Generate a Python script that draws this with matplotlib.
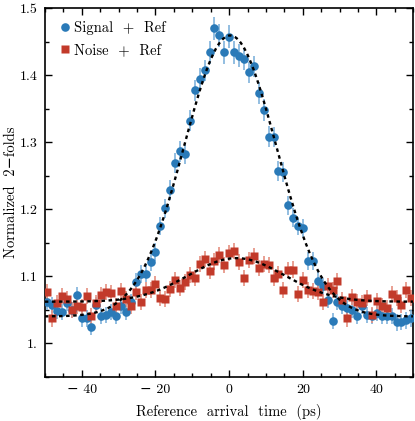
import numpy as np
import matplotlib
matplotlib.use("Agg")
import matplotlib.pyplot as plt
from matplotlib.ticker import MultipleLocator, FixedLocator, FixedFormatter

plt.rcParams['font.family'] = ['cmr10', 'DejaVu Serif']
plt.rcParams['axes.unicode_minus'] = True
plt.rcParams['mathtext.fontset'] = 'cm'

# ---- data ----
delay = [-49.35, -48.02, -46.68, -45.35, -44.01, -42.68, -41.34, -40.01, -38.67, -37.34,
         -36.00, -34.67, -33.33, -32.00, -30.66, -29.33, -27.99, -26.66, -25.32, -23.99,
         -22.65, -21.32, -19.98, -18.65, -17.31, -15.98, -14.64, -13.31, -11.97, -10.64,
         -9.30, -7.97, -6.63, -5.30, -3.96, -2.63, -1.29, 0.05, 1.38, 2.72,
         4.05, 5.39, 6.72, 8.06, 9.39, 10.73, 12.06, 13.40, 14.73, 16.07,
         17.40, 18.74, 20.07, 21.41, 22.74, 24.08, 25.41, 26.75, 28.08, 29.42,
         30.75, 32.09, 33.42, 34.76, 36.09, 37.43, 38.76, 40.10, 41.43, 42.77,
         44.10, 45.44, 46.77, 48.11, 49.44]

signal = [1.062, 1.057, 1.048, 1.047, 1.060, 1.050, 1.072, 1.037, 1.037, 1.025,
          1.057, 1.040, 1.042, 1.047, 1.041, 1.055, 1.046, 1.062, 1.092, 1.103,
          1.104, 1.121, 1.136, 1.175, 1.201, 1.228, 1.269, 1.286, 1.282, 1.332,
          1.377, 1.394, 1.407, 1.434, 1.470, 1.459, 1.434, 1.457, 1.434, 1.429,
          1.424, 1.404, 1.413, 1.373, 1.348, 1.308, 1.308, 1.257, 1.256, 1.206,
          1.187, 1.175, 1.172, 1.123, 1.123, 1.093, 1.085, 1.064, 1.033, 1.062,
          1.055, 1.052, 1.050, 1.041, 1.056, 1.042, 1.041, 1.045, 1.040, 1.041,
          1.040, 1.031, 1.032, 1.034, 1.037]

signal_err = [0.012, 0.012, 0.012, 0.012, 0.012, 0.012, 0.012, 0.012, 0.012, 0.012,
              0.012, 0.012, 0.012, 0.012, 0.012, 0.012, 0.012, 0.012, 0.013, 0.013,
              0.013, 0.013, 0.014, 0.014, 0.014, 0.015, 0.015, 0.015, 0.015, 0.016,
              0.016, 0.016, 0.016, 0.017, 0.017, 0.017, 0.017, 0.017, 0.017, 0.017,
              0.017, 0.016, 0.016, 0.016, 0.016, 0.016, 0.015, 0.015, 0.015, 0.014,
              0.014, 0.014, 0.014, 0.013, 0.013, 0.013, 0.013, 0.012, 0.012, 0.012,
              0.012, 0.012, 0.012, 0.012, 0.012, 0.012, 0.012, 0.012, 0.012, 0.012,
              0.012, 0.012, 0.012, 0.012, 0.012]

noise = [1.077, 1.037, 1.060, 1.071, 1.066, 1.050, 1.055, 1.054, 1.071, 1.040,
         1.060, 1.072, 1.076, 1.075, 1.055, 1.078, 1.066, 1.055, 1.076, 1.061,
         1.080, 1.079, 1.088, 1.067, 1.066, 1.081, 1.095, 1.082, 1.091, 1.102,
         1.097, 1.118, 1.126, 1.108, 1.122, 1.132, 1.117, 1.134, 1.137, 1.121,
         1.097, 1.124, 1.130, 1.112, 1.118, 1.117, 1.097, 1.103, 1.080, 1.109,
         1.110, 1.073, 1.095, 1.079, 1.078, 1.077, 1.062, 1.085, 1.080, 1.093,
         1.064, 1.037, 1.069, 1.061, 1.060, 1.067, 1.042, 1.063, 1.055, 1.052,
         1.074, 1.068, 1.057, 1.079, 1.068]

noise_err = [0.012] * len(noise)

# Gaussian fit parameters (baseline, amplitude, centre, sigma)
signal_fit = (1.040, 0.419, 0.3, 12.5)
noise_fit = (1.062, 0.065, 2.0, 13.0)

xlim = (-50, 50)
ylim = (0.95, 1.5)
xticks = [-40, -20, 0, 20, 40]
xticklabels = ['\u2212 40', '\u2212 20', '0', '20', '40']
yticks = [1.0, 1.1, 1.2, 1.3, 1.4, 1.5]
yticklabels = ['1.', '1.1', '1.2', '1.3', '1.4', '1.5']

blue = '#2a7ab8'
blue_err = '#80b3dc'
red = '#c23a2a'
red_err = '#e59080'

fig = plt.figure(figsize=(4.15, 4.21), dpi=100)
ax = fig.add_axes([0.108, 0.105, 0.888, 0.876])

x = np.array(delay)
ax.errorbar(x, signal, yerr=signal_err, fmt='none', ecolor=blue_err,
            elinewidth=1.2, capsize=0, zorder=2)
ax.plot(x, signal, 'o', color=blue, ms=6.2, mec='none', zorder=3,
        label='Signal  +  Ref')
ax.errorbar(x, noise, yerr=noise_err, fmt='none', ecolor=red_err,
            elinewidth=1.2, capsize=0, zorder=2)
ax.plot(x, noise, 's', color=red, ms=5.8, mec='none', zorder=4,
        label='Noise  +  Ref')

xf = np.linspace(xlim[0], xlim[1], 400)
for (b, a, c0, s) in (signal_fit, noise_fit):
    ax.plot(xf, b + a * np.exp(-(xf - c0) ** 2 / (2 * s ** 2)), color='black',
            lw=1.7, ls=(0, (1.5, 1.5)), zorder=5)

ax.set_xlim(*xlim)
ax.set_ylim(*ylim)
ax.xaxis.set_major_locator(FixedLocator(xticks))
ax.xaxis.set_major_formatter(FixedFormatter(xticklabels))
ax.xaxis.set_minor_locator(MultipleLocator(5))
ax.yaxis.set_major_locator(FixedLocator(yticks))
ax.yaxis.set_major_formatter(FixedFormatter(yticklabels))
ax.yaxis.set_minor_locator(MultipleLocator(0.05))
ax.tick_params(which='both', direction='in', top=True, right=True, width=1.0,
               labelsize=10, pad=5)
ax.tick_params(which='major', length=5)
ax.tick_params(which='minor', length=3)
for sp in ax.spines.values():
    sp.set_linewidth(1.2)

ax.set_xlabel('Reference  arrival  time  (ps)', fontsize=10.5, labelpad=6)
ax.set_ylabel('Normalized  2\u2212folds', fontsize=10.5)
ax.yaxis.set_label_coords(-0.072, 0.5)

leg = ax.legend(loc='upper left', frameon=False, fontsize=10.5,
                handletextpad=0.1, borderaxespad=0.6, handlelength=1.0,
                labelspacing=0.55, borderpad=0.3)

fig.savefig('out.png', dpi=100)
